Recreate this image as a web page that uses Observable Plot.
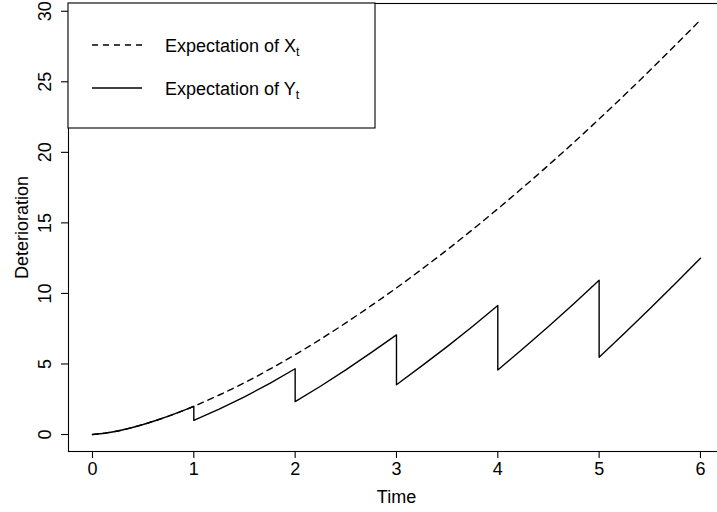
<!DOCTYPE html>
<html>
<head>
<meta charset="utf-8">
<script src="https://cdn.jsdelivr.net/npm/d3@7"></script>
<script src="https://cdn.jsdelivr.net/npm/@observablehq/plot@0.6"></script>
<style>
  html, body { margin: 0; padding: 0; background: white; overflow: hidden; }
  #chart svg { display: block; }
</style>
</head>
<body>
<div id="chart"></div>
<script>
// Time grid and expectation of X_t (dashed curve)
const timeX = [0,0.25,0.5,0.75,1,1.25,1.5,1.75,2,2.25,2.5,2.75,3,3.25,3.5,3.75,4,4.25,4.5,4.75,5,5.25,5.5,5.75,6];
const expX  = [0,0.25,0.71,1.30,2.00,2.80,3.67,4.63,5.66,6.75,7.91,9.13,10.39,11.72,13.09,14.52,16.00,17.52,19.09,20.70,22.36,24.06,25.80,27.58,29.39];

// Expectation of Y_t (solid saw-tooth curve), repeated times mark the drops
const timeY = [0,0.125,0.25,0.375,0.5,0.625,0.75,0.875,1,1,1.25,1.5,1.75,2,2,2.25,2.5,2.75,3,3,3.25,3.5,3.75,4,4,4.25,4.5,4.75,5,5,5.25,5.5,5.75,6];
const expY  = [0,0.09,0.25,0.46,0.71,0.99,1.30,1.64,2.00,1.00,1.80,2.67,3.63,4.66,2.33,3.42,4.58,5.80,7.06,3.53,4.86,6.23,7.66,9.14,4.57,6.09,7.66,9.27,10.93,5.47,7.17,8.91,10.69,12.50];

const xTicks = [0,1,2,3,4,5,6];
const yTicks = [0,5,10,15,20,25,30];
const legendLabels = [["Expectation of X", "t"], ["Expectation of Y", "t"]];
const xTitle = "Time";
const yTitle = "Deterioration";

const dataX = timeX.map((t, i) => ({t, v: expX[i]}));
const dataY = timeY.map((t, i) => ({t, v: expY[i]}));

const FONT = "'Liberation Sans', Arial, Helvetica, sans-serif";
const FS = 18;

function legend(index, scales, values, dimensions) {
  const g = d3.create("svg:g").attr("font-family", FONT).attr("text-anchor", "start");
  const x0 = dimensions.marginLeft, y0 = dimensions.marginTop;
  g.append("rect").attr("x", x0).attr("y", y0).attr("width", 307).attr("height", 125)
    .attr("fill", "white").attr("stroke", "black").attr("stroke-width", 1.1);
  const styles = ["6,5", null];
  legendLabels.forEach((lab, i) => {
    const cy = y0 + 42 + i * 43;
    const ln = g.append("line").attr("x1", x0 + 24).attr("x2", x0 + 74)
      .attr("y1", cy).attr("y2", cy).attr("stroke", "black").attr("stroke-width", 1.4);
    if (styles[i]) ln.attr("stroke-dasharray", styles[i]);
    const tx = g.append("text").attr("x", x0 + 97).attr("y", cy + 6.5)
      .attr("text-anchor", "start")
      .attr("font-size", FS).attr("fill", "black");
    tx.append("tspan").text(lab[0]);
    tx.append("tspan").attr("font-size", 12.5).attr("dy", 4).text(lab[1]);
  });
  return g.node();
}

const chart = Plot.plot({
  width: 717,
  height: 512,
  marginLeft: 68,
  marginRight: -1,
  marginTop: 3,
  marginBottom: 61,
  style: {fontFamily: FONT, fontSize: FS + "px", background: "white", color: "black"},
  x: {domain: [-0.2368, 6.178], axis: null, label: null},
  y: {domain: [-1.205, 30.55], axis: null, label: null},
  marks: [
    Plot.frame({stroke: "black", strokeWidth: 1.1}),
    Plot.axisX(xTicks, {tickSize: 7, tickFormat: () => "", strokeWidth: 1.1}),
    Plot.axisY(yTicks, {tickSize: 7, tickFormat: () => "", strokeWidth: 1.1}),
    Plot.text(xTicks, {x: d => d, frameAnchor: "bottom", dy: 18, text: d => String(d), fontSize: FS, lineAnchor: "middle"}),
    Plot.text(yTicks, {y: d => d, frameAnchor: "left", dx: -23, rotate: -90, text: d => String(d), fontSize: FS, lineAnchor: "middle", textAnchor: "middle"}),
    Plot.text([xTitle], {frameAnchor: "bottom", dx: 3, dy: 46, text: d => d, fontSize: FS, lineAnchor: "middle"}),
    Plot.text([yTitle], {frameAnchor: "left", dx: -46, rotate: -90, text: d => d, fontSize: FS, lineAnchor: "middle", textAnchor: "middle"}),
    Plot.line(dataX, {x: "t", y: "v", stroke: "black", strokeWidth: 1.4, strokeDasharray: "6,5", curve: "monotone-x"}),
    Plot.line(dataY, {x: "t", y: "v", stroke: "black", strokeWidth: 1.4, curve: "linear"}),
    legend
  ]
});
document.getElementById("chart").append(chart);
</script>
</body>
</html>
